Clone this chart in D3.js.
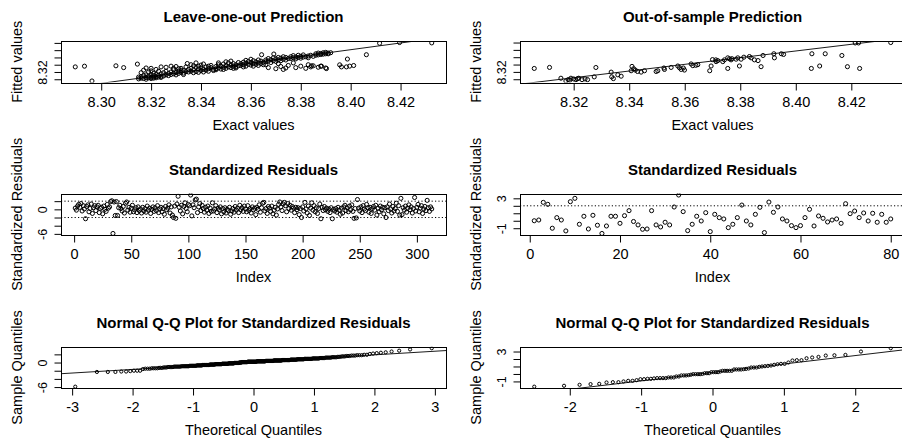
<!DOCTYPE html>
<html>
<head>
<meta charset="utf-8">
<script src="https://cdn.jsdelivr.net/npm/d3@7"></script>
<style>
  body { margin: 0; background: #fff; }
  text { font-family: "Liberation Sans", Arial, sans-serif; fill: #000; }
</style>
</head>
<body>
<svg id="chart" width="902" height="443"></svg>
<script>
// leave-one-out: [exact, fitted]
let looPairs = [
  [8.2896,8.334],[8.2933,8.336],[8.2963,8.2953],[8.3059,8.337],[8.309,8.332],[8.3145,8.3417],
  [8.315,8.301],[8.316,8.303],[8.317,8.302],[8.318,8.305],[8.318,8.300],[8.319,8.304],[8.320,8.305],[8.320,8.302],[8.321,8.306],[8.321,8.303],
  [8.322,8.307],[8.322,8.304],[8.323,8.306],[8.324,8.308],[8.324,8.305],[8.325,8.309],[8.316,8.307],[8.319,8.309],[8.321,8.310],[8.323,8.311],
  [8.317,8.310],[8.320,8.312],[8.315,8.306],[8.318,8.312],[8.316,8.318],[8.317,8.325],[8.319,8.320],[8.320,8.330],[8.321,8.316],[8.322,8.327],
  [8.323,8.322],[8.324,8.334],[8.325,8.318],[8.318,8.331],[8.320,8.323],[8.322,8.313],[8.324,8.315],
  [8.326,8.312],[8.327,8.310],[8.327,8.316],[8.328,8.313],[8.328,8.320],[8.329,8.315],[8.329,8.326],[8.330,8.318],[8.330,8.312],[8.331,8.322],
  [8.331,8.316],[8.332,8.319],[8.332,8.330],[8.333,8.317],[8.333,8.324],[8.334,8.321],[8.334,8.334],[8.335,8.320],[8.335,8.327],[8.326,8.333],
  [8.328,8.336],[8.330,8.335],[8.331,8.329],[8.333,8.313],[8.326,8.322],[8.329,8.330],[8.332,8.325],
  [8.336,8.322],[8.336,8.330],[8.337,8.318],[8.337,8.326],[8.338,8.333],[8.338,8.321],[8.339,8.328],[8.339,8.336],[8.340,8.324],[8.340,8.331],
  [8.341,8.320],[8.341,8.327],[8.342,8.334],[8.342,8.325],[8.343,8.329],[8.343,8.322],[8.344,8.332],[8.344,8.338],[8.345,8.327],[8.345,8.324],
  [8.336,8.340],[8.339,8.319],[8.341,8.342],[8.343,8.336],[8.338,8.345],[8.3345,8.3433],[8.337,8.337],[8.340,8.339],
  [8.346,8.329],[8.346,8.335],[8.347,8.331],[8.347,8.340],[8.348,8.328],[8.348,8.336],[8.349,8.333],[8.349,8.342],[8.350,8.330],[8.350,8.337],
  [8.351,8.334],[8.351,8.345],[8.352,8.332],[8.352,8.339],[8.353,8.336],[8.353,8.343],[8.354,8.334],[8.354,8.340],[8.355,8.337],[8.355,8.346],
  [8.347,8.345],[8.350,8.348],[8.353,8.330],[8.349,8.327],[8.352,8.350],[8.346,8.326],[8.354,8.331],
  [8.356,8.338],[8.356,8.343],[8.357,8.340],[8.357,8.347],[8.358,8.336],[8.358,8.344],[8.359,8.341],[8.359,8.349],[8.360,8.339],[8.360,8.346],
  [8.361,8.343],[8.361,8.351],[8.362,8.341],[8.362,8.348],[8.363,8.345],[8.363,8.353],[8.364,8.343],[8.364,8.350],[8.365,8.347],[8.365,8.340],
  [8.358,8.352],[8.361,8.336],[8.3643,8.3675],[8.360,8.355],[8.357,8.334],[8.363,8.338],
  [8.366,8.348],[8.366,8.353],[8.367,8.350],[8.367,8.357],[8.368,8.346],[8.368,8.354],[8.369,8.351],[8.369,8.359],[8.370,8.349],[8.370,8.356],
  [8.371,8.353],[8.371,8.360],[8.372,8.351],[8.372,8.358],[8.373,8.355],[8.373,8.362],[8.374,8.353],[8.374,8.360],[8.375,8.357],[8.3692,8.3694],
  [8.367,8.332],[8.370,8.329],[8.372,8.335],[8.373,8.327],[8.374,8.331],[8.375,8.338],[8.366,8.340],[8.371,8.343],
  [8.376,8.357],[8.376,8.362],[8.377,8.359],[8.377,8.365],[8.378,8.356],[8.378,8.361],[8.379,8.360],[8.379,8.366],[8.380,8.358],[8.380,8.363],
  [8.381,8.361],[8.381,8.367],[8.382,8.362],[8.383,8.364],[8.383,8.359],[8.384,8.366],[8.385,8.363],[8.378,8.332],[8.380,8.336],[8.382,8.330],
  [8.383,8.340],[8.384,8.334],[8.385,8.337],[8.377,8.345],
  [8.386,8.366],[8.386,8.370],[8.387,8.367],[8.387,8.372],[8.388,8.368],[8.388,8.371],[8.389,8.369],[8.389,8.373],[8.390,8.370],[8.390,8.374],
  [8.391,8.372],[8.391,8.370],[8.392,8.373],[8.387,8.333],[8.388,8.336],[8.390,8.331],[8.3843,8.337],[8.3883,8.336],[8.3903,8.3294],
  [8.3956,8.3397],[8.3963,8.334],[8.3983,8.334],[8.3996,8.3361],[8.4012,8.3378],[8.3987,8.3556],[8.4063,8.3675],
  [8.4116,8.399],[8.4196,8.401],[8.4325,8.400]
]

// out-of-sample: [exact, fitted]
let oosPairs = [
  [8.3058,8.3294],[8.3113,8.3322],[8.3154,8.3028],
  [8.3172,8.2953],[8.318,8.2989],[8.319,8.3028],[8.320,8.3008],[8.3208,8.2989],[8.3218,8.3028],[8.323,8.2989],[8.3241,8.3008],[8.325,8.2989],
  [8.3186,8.2975],[8.3214,8.3015],[8.328,8.332],[8.3274,8.3064],
  [8.3335,8.3194],[8.3337,8.3064],[8.3343,8.3017],[8.3359,8.312],[8.3371,8.3083],
  [8.341,8.335],[8.3416,8.3286],[8.3422,8.325],[8.3407,8.3231],[8.343,8.3211],[8.3443,8.3194],[8.3455,8.3231],
  [8.3497,8.3211],[8.3503,8.3231],[8.3527,8.3267],[8.3525,8.3306],[8.3551,8.3322],[8.3575,8.3361],[8.3581,8.3314],[8.3587,8.3267],
  [8.3599,8.325],[8.3595,8.3306],
  [8.3623,8.3417],[8.3629,8.337],[8.3647,8.3397],[8.369,8.3231],[8.3695,8.3361],[8.3713,8.348],[8.3719,8.3508],[8.3737,8.348],
  [8.3743,8.3528],[8.3755,8.3583],[8.3761,8.3556],[8.3755,8.3294],[8.3767,8.3528],[8.3785,8.3546],[8.3791,8.3583],[8.3797,8.3361],
  [8.3803,8.3546],[8.3813,8.3601],[8.3833,8.3619],[8.3839,8.3583],[8.3851,8.3528],[8.3864,8.3508],[8.3875,8.3342],[8.3882,8.3647],
  [8.3921,8.3694],[8.3923,8.3583],[8.3948,8.3694],[8.3956,8.3675],[8.4058,8.3694],[8.4056,8.3294],[8.4086,8.3361],[8.4106,8.3694],
  [8.4166,8.3647],[8.4186,8.3342],[8.4214,8.3989],[8.4226,8.3989],[8.4230,8.3294],[8.4342,8.4],
  [8.3700,8.3535],[8.3712,8.3528],[8.3770,8.3560],[8.3640,8.3380]
]

// fitted lines drawn on the prediction plots: [intercept, slope]
let looLine = [0.6071, 0.9255]
let oosLine = [0.733, 0.910]

// standardized residuals, leave-one-out (by index)
let looResid = [
  0.3, -0.2, 0.8, 1.2, 0.5, 1.4, -0.4, 0.9, 0.1, -2.3,
  0.7, 1.1, -0.6, 0.2, 1.3, -1.0, 0.4, 0.9, -0.3, 0.6,
  1.0, -0.8, 0.2, 0.5, -1.1, 0.8, 0.0, -0.5, 1.2, 0.3,
  0.6, 1.9, 2.1, -5.9, 1.8, -1.5, 1.9, -1.5, 0.4, 1.0,
  0.2, -0.4, 0.7, -0.9, 1.5, 1.8, -0.2, 0.5, -0.7, 0.3,
  1.0, -0.6, -0.1, 0.4, -0.8, 0.6, -0.3, 0.1, -0.9, 0.5,
  -0.4, 0.2, -0.7, 0.8, -0.2, 0.3, -1.0, 0.0, 0.6, -0.5,
  0.4, -0.3, 0.9, -0.8, 0.1, 0.5, -0.6, 0.2, -1.2, 0.7,
  -0.1, 0.3, 1.1, -0.9, 0.6, -1.4, -2.0, 0.8, -2.2, 1.3,
  3.2, 0.5, -0.4, 1.0, -1.1, 0.7, 1.6, 0.2, -0.6, 1.2,
  0.9, 3.5, -1.6, 1.1, 0.4, 2.3, 2.5, -0.8, 0.6, 1.4,
  -0.3, 1.0, 0.2, -0.7, 0.5, -0.2, 0.8, -1.0, 0.3, -0.5,
  1.6, -0.4, 0.1, 0.9, -0.8, 0.3, -0.1, 0.6, -1.1, 0.2,
  -0.6, 0.4, -0.9, 0.0, -0.3, 0.5, -1.2, -0.4, 0.2, -0.7,
  0.7, -0.2, 0.3, -0.8, 1.0, -0.1, 0.4, -0.5, 0.8, 0.1,
  -0.6, 0.9, -0.3, 0.2, -0.9, 0.6, -0.1, 0.3, -1.3, 0.5,
  0.0, 1.1, -0.7, 0.4, 1.5, 1.7, -0.4, 0.2, -1.0, 0.7,
  0.3, -0.5, 0.8, -1.1, -0.2, 0.5, -1.4, 0.1, 1.2, 1.8,
  0.6, -0.3, 1.3, 1.7, 0.9, -0.6, 1.4, 0.2, 1.0, -0.2,
  0.7, 0.3, -0.8, 0.5, -0.1, 0.4, -1.3, 0.2, -2.0, 0.6,
  -0.4, 1.7, 0.1, -0.9, 0.8, -1.5, 0.3, 1.6, -0.2, 0.9,
  -0.6, 0.4, -1.0, 0.2, 1.3, -2.3, 0.5, -0.3, 0.7, -0.1,
  0.3, -0.5, 0.1, -0.8, 0.4, -2.3, 0.0, -0.4, 0.2, -0.7,
  0.5, -0.2, -1.2, 0.3, -0.9, 0.6, 1.0, -0.3, 0.4, -0.6,
  0.8, -0.1, 1.1, -0.5, -2.2, 0.2, -2.1, 2.4, 0.3, -0.4,
  0.6, -0.8, 0.9, 0.1, -0.3, 1.2, 0.4, -0.7, 0.5, -1.0,
  0.2, 0.7, -0.2, 1.0, -1.4, 0.3, -0.6, 0.8, -0.1, 0.5,
  -1.1, 0.4, -2.0, 0.6, -0.3, 1.3, 0.1, -0.9, 0.7, -0.4,
  0.2, 1.5, -0.5, 0.9, -1.4, 2.7, -1.3, 0.4, -0.2, 0.8,
  -0.7, 0.3, 1.1, -0.1, 0.6, -0.9, 0.2, 2.9, -0.4, 0.5,
  1.2, -0.6, 0.3, 0.9, -1.0, 0.1, 0.7, -0.3, 2.2, 0.4,
  -0.5, 0.6, 0.1
]

// standardized residuals, out-of-sample (by index)
let oosResid = [
  0.0, 0.1, 2.46, 2.2, -1.0, 0.42, 0.1, -1.36, 2.55, 3.0,
  -0.47, 0.6, -1.1, 0.73, -0.6, -1.7, -0.7, 0.6, 0.6, -0.34,
  0.68, 1.35, -0.1, -0.56, -1.14, -1.1, 1.35, -0.56, -0.83, -0.2,
  -0.56, 1.84, 3.44, 1.22, -1.32, -0.47, 0.6, -0.03, 1.08, -1.45,
  0.86, 0.42, 0.24, -0.92, -0.47, 0.42, 2.1, -0.03, -0.56, 0.86,
  1.8, -1.58, 2.5, 1.13, 1.84, 0.24, -0.03, -0.65, -0.92, -0.65,
  0.42, 1.53, -0.7, 0.64, 0.33, -0.16, 0.1, 0.24, -0.34, 2.28,
  0.95, 1.3, 0.42, 1.04, -0.03, 1.0, -0.2, 0.86, -0.2, 0.24
]

let predXTicks = [8.28, 8.30, 8.32, 8.34, 8.36, 8.38, 8.40, 8.42, 8.44]
let predYTicks = [8.30, 8.32, 8.34, 8.36, 8.38, 8.40]
let predYLabels = [8.32]
let looIdxTicks = [0, 50, 100, 150, 200, 250, 300]
let oosIdxTicks = [0, 20, 40, 60, 80]
let qqTicks = [-3, -2, -1, 0, 1, 2, 3]
let looResTicks = [-6, -4, -2, 0, 2]
let looResLabels = [-6, 0]
let oosResTicks = [-1, 0, 1, 2, 3]
let oosResLabels = [-1, 3]
let limitLines = [-2, 2]

let svg = d3.select("#chart")
let colX = [61, 520]
let rowY = [41, 193.5, 346.7]
let plotW = 385
let plotH = 41.5

// R style axis limits: data range plus 4% each side
function padded(ext) {
  let d = (ext[1] - ext[0]) * 0.04
  return [ext[0] - d, ext[1] + d]
}

// inverse normal cdf (Acklam)
function qnorm(p) {
  let a = [-3.969683028665376e+01, 2.209460984245205e+02, -2.759285104469687e+02, 1.383577518672690e+02, -3.066479806614716e+01, 2.506628277459239e+00]
  let b = [-5.447609879822406e+01, 1.615858368580409e+02, -1.556989798598866e+02, 6.680131188771972e+01, -1.328068155288572e+01]
  let c = [-7.784894002430293e-03, -3.223964580411365e-01, -2.400758277161838e+00, -2.549732539343734e+00, 4.374664141464968e+00, 2.938163982698783e+00]
  let d = [7.784695709041462e-03, 3.224671290700398e-01, 2.445134137142996e+00, 3.754408661907416e+00]
  let q, r
  if (p < 0.02425) {
    q = Math.sqrt(-2 * Math.log(p))
    return (((((c[0]*q+c[1])*q+c[2])*q+c[3])*q+c[4])*q+c[5]) / ((((d[0]*q+d[1])*q+d[2])*q+d[3])*q+1)
  }
  if (p > 1 - 0.02425) return -qnorm(1 - p)
  q = p - 0.5
  r = q * q
  return (((((a[0]*r+a[1])*r+a[2])*r+a[3])*r+a[4])*r+a[5])*q / (((((b[0]*r+b[1])*r+b[2])*r+b[3])*r+b[4])*r+1)
}

function qqData(res) {
  let sorted = res.slice().sort((a, b) => a - b)
  let n = sorted.length
  let theo = sorted.map((v, i) => qnorm((i + 0.5) / n))
  // qqline through the quartiles
  let y1 = d3.quantileSorted(sorted, 0.25), y2 = d3.quantileSorted(sorted, 0.75)
  let x1 = qnorm(0.25), x2 = qnorm(0.75)
  let slope = (y2 - y1) / (x2 - x1)
  return { xs: theo, ys: sorted, line: [y1 - slope * x1, slope] }
}

let fmt2 = d => d.toFixed(2)
let fmtInt = d => String(d)

let qqLoo = qqData(looResid)
let qqOos = qqData(oosResid)

let panels = [
  { col: 0, row: 0, title: "Leave-one-out Prediction", xlab: "Exact values", ylab: "Fitted values",
    xs: looPairs.map(d => d[0]), ys: looPairs.map(d => d[1]), abline: looLine,
    xTicks: predXTicks, yTicks: predYTicks, yLabels: predYLabels, xFmt: fmt2, yFmt: fmt2, r: 2.05 },
  { col: 1, row: 0, title: "Out-of-sample Prediction", xlab: "Exact values", ylab: "Fitted values",
    xs: oosPairs.map(d => d[0]), ys: oosPairs.map(d => d[1]), abline: oosLine,
    xTicks: predXTicks, yTicks: predYTicks, yLabels: predYLabels, xFmt: fmt2, yFmt: fmt2, r: 2.05 },
  { col: 0, row: 1, title: "Standardized Residuals", xlab: "Index", ylab: "Standardized Residuals",
    xs: d3.range(1, looResid.length + 1), ys: looResid, hlines: limitLines,
    xTicks: looIdxTicks, yTicks: looResTicks, yLabels: looResLabels, xFmt: fmtInt, yFmt: fmtInt, r: 2.05 },
  { col: 1, row: 1, title: "Standardized Residuals", xlab: "Index", ylab: "Standardized Residuals",
    xs: d3.range(1, oosResid.length + 1), ys: oosResid, hlines: limitLines,
    xTicks: oosIdxTicks, yTicks: oosResTicks, yLabels: oosResLabels, xFmt: fmtInt, yFmt: fmtInt, r: 2.05 },
  { col: 0, row: 2, title: "Normal Q-Q Plot for Standardized Residuals", xlab: "Theoretical Quantiles", ylab: "Sample Quantiles",
    xs: qqLoo.xs, ys: qqLoo.ys, abline: qqLoo.line,
    xTicks: qqTicks, yTicks: looResTicks, yLabels: looResLabels, xFmt: fmtInt, yFmt: fmtInt, r: 1.6 },
  { col: 1, row: 2, title: "Normal Q-Q Plot for Standardized Residuals", xlab: "Theoretical Quantiles", ylab: "Sample Quantiles",
    xs: qqOos.xs, ys: qqOos.ys, abline: qqOos.line,
    xTicks: qqTicks, yTicks: oosResTicks, yLabels: oosResLabels, xFmt: fmtInt, yFmt: fmtInt, r: 1.6 }
]

function drawPanel(p, k) {
  let left = colX[p.col], top = rowY[p.row]
  let right = left + plotW, bottom = top + plotH

  let xScale = d3.scaleLinear().domain(padded(d3.extent(p.xs))).range([left, right])
  let yScale = d3.scaleLinear().domain(padded(d3.extent(p.ys))).range([bottom, top])
  let xd = xScale.domain(), yd = yScale.domain()

  let g = svg.append("g")
  g.append("clipPath").attr("id", "clip" + k).append("rect")
    .attr("x", left).attr("y", top).attr("width", plotW).attr("height", plotH)
  let inner = g.append("g").attr("clip-path", `url(#clip${k})`)

  if (p.hlines) {
    inner.selectAll("line.lim").data(p.hlines).join("line")
      .attr("class", "lim")
      .attr("x1", left).attr("x2", right)
      .attr("y1", d => yScale(d)).attr("y2", d => yScale(d))
      .attr("stroke", "#000").attr("stroke-width", 1)
      .attr("stroke-dasharray", "1.2,2.2")
  }

  if (p.abline) {
    let a = p.abline[0], b = p.abline[1]
    inner.append("line")
      .attr("x1", xScale(xd[0])).attr("y1", yScale(a + b * xd[0]))
      .attr("x2", xScale(xd[1])).attr("y2", yScale(a + b * xd[1]))
      .attr("stroke", "#000").attr("stroke-width", 0.9)
  }

  inner.selectAll("circle").data(d3.range(p.xs.length)).join("circle")
    .attr("cx", i => xScale(p.xs[i]))
    .attr("cy", i => yScale(p.ys[i]))
    .attr("r", p.r)
    .attr("fill", "none")
    .attr("stroke", "#000")
    .attr("stroke-width", 1)

  // x axis
  let xt = p.xTicks.filter(v => v >= xd[0] && v <= xd[1])
  let xAxis = d3.axisBottom(xScale).tickValues(xt).tickSize(7).tickPadding(6).tickFormat(p.xFmt)
  let xg = g.append("g").attr("transform", `translate(0,${Math.round(bottom) + 0.5})`).call(xAxis)
  xg.select(".domain").remove()
  xg.selectAll("line").attr("stroke", "#000")
  xg.selectAll("text").attr("font-size", 14.5).attr("font-family", null)

  // y axis, labels parallel to the axis
  let yt = p.yTicks.filter(v => v >= yd[0] && v <= yd[1])
  let yAxis = d3.axisLeft(yScale).tickValues(yt).tickSize(7)
    .tickFormat(v => p.yLabels.some(l => Math.abs(l - v) < 1e-9) ? p.yFmt(v) : "")
  let yg = g.append("g").attr("transform", `translate(${Math.round(left) + 0.5},0)`).call(yAxis)
  yg.select(".domain").remove()
  yg.selectAll("line").attr("stroke", "#000")
  yg.selectAll("text")
    .attr("transform", "rotate(-90)")
    .attr("x", 0).attr("y", -15).attr("dy", 0)
    .attr("text-anchor", "middle")
    .attr("font-size", 12.5).attr("font-family", null)

  // box
  g.append("rect")
    .attr("x", Math.round(left) + 0.5).attr("y", Math.round(top) + 0.5)
    .attr("width", Math.round(right) - Math.round(left))
    .attr("height", Math.round(bottom) - Math.round(top))
    .attr("fill", "none").attr("stroke", "#000").attr("stroke-width", 1)

  let cx = (left + right) / 2
  g.append("text")
    .attr("x", cx).attr("y", top - 19)
    .attr("text-anchor", "middle")
    .attr("font-size", 15).attr("font-weight", "bold")
    .text(p.title)

  g.append("text")
    .attr("x", cx).attr("y", bottom + 47)
    .attr("text-anchor", "middle")
    .attr("font-size", 14.5)
    .text(p.xlab)

  g.append("text")
    .attr("transform", `translate(${left - 39},${(top + bottom) / 2}) rotate(-90)`)
    .attr("text-anchor", "middle")
    .attr("font-size", 14.5)
    .text(p.ylab)
}

panels.forEach(drawPanel)
</script>
</body>
</html>
